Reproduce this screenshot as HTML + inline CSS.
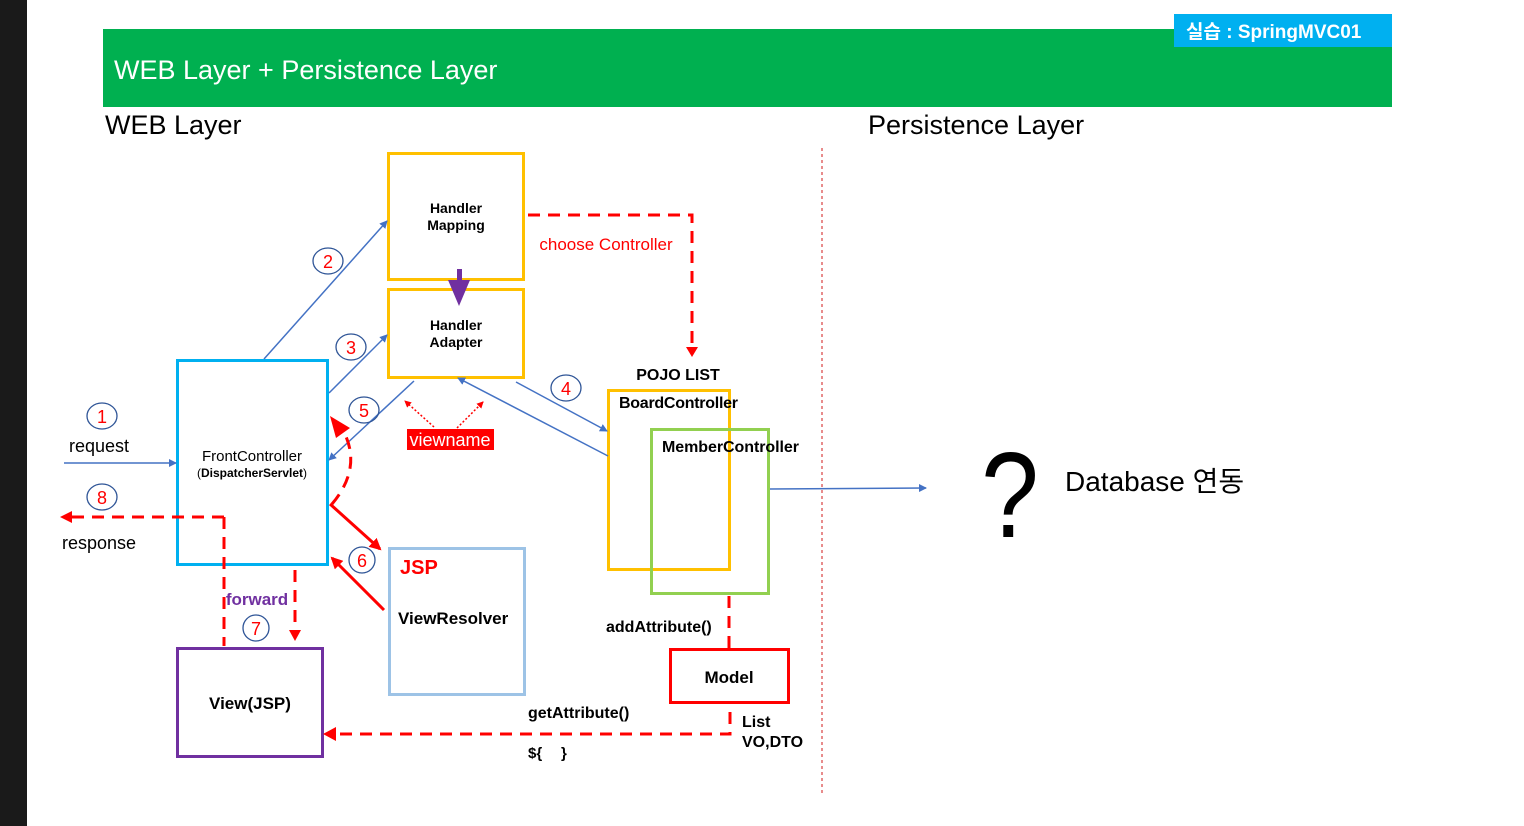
<!DOCTYPE html>
<html><head><meta charset="utf-8"><style>
html,body{margin:0;padding:0;background:#fff;}
svg{display:block;}
text{font-family:"Liberation Sans","Noto Sans CJK KR",sans-serif;}
</style></head><body>
<svg width="1524" height="826" viewBox="0 0 1524 826" xmlns="http://www.w3.org/2000/svg">
<defs>
<marker id="ab" markerWidth="8" markerHeight="8" refX="7" refY="4" orient="auto" markerUnits="userSpaceOnUse"><path d="M0,0 L8,4 L0,8 z" fill="#4472c4"/></marker>
<marker id="ar" markerWidth="12" markerHeight="12" refX="10" refY="6" orient="auto" markerUnits="userSpaceOnUse"><path d="M0,0 L12,6 L0,12 z" fill="#ff0000"/></marker>
<marker id="ars" markerWidth="10" markerHeight="10" refX="9" refY="5" orient="auto" markerUnits="userSpaceOnUse"><path d="M0,0 L10,5 L0,10 z" fill="#ff0000"/></marker>
<marker id="art" markerWidth="7" markerHeight="7" refX="6" refY="3.5" orient="auto" markerUnits="userSpaceOnUse"><path d="M0,0 L7,3.5 L0,7 z" fill="#ff0000"/></marker>
</defs>
<rect x="0" y="0" width="27" height="826" fill="#1a1a1a"/>
<rect x="103" y="29" width="1289" height="78" fill="#00b050"/>
<text x="114" y="79" font-size="27" fill="#fff">WEB Layer + Persistence Layer</text>
<rect x="1174" y="14" width="218" height="33" fill="#00b0f0"/>
<text x="1186" y="38" font-size="19" font-weight="bold" fill="#fff">실습 : SpringMVC01</text>
<text x="105" y="134" font-size="27" fill="#000">WEB Layer</text>
<text x="868" y="134" font-size="27" fill="#000">Persistence Layer</text>
<line x1="822" y1="148" x2="822" y2="796" stroke="#e06666" stroke-width="1.5" stroke-dasharray="3,3"/>

<rect x="388.5" y="153.5" width="135" height="126" fill="none" stroke="#ffc000" stroke-width="3"/>
<text x="456" y="213" font-size="14" font-weight="bold" text-anchor="middle">Handler</text>
<text x="456" y="230" font-size="14" font-weight="bold" text-anchor="middle">Mapping</text>
<rect x="388.5" y="289.5" width="135" height="88" fill="none" stroke="#ffc000" stroke-width="3"/>
<text x="456" y="330" font-size="14" font-weight="bold" text-anchor="middle">Handler</text>
<text x="456" y="347" font-size="14" font-weight="bold" text-anchor="middle">Adapter</text>
<rect x="457" y="269" width="5" height="14" fill="#7030a0"/><path d="M448,280 L470,280 L459,306 z" fill="#7030a0"/>

<rect x="177.5" y="360.5" width="150" height="204" fill="none" stroke="#00b0f0" stroke-width="3"/>
<text x="252" y="461" font-size="15" text-anchor="middle">FrontController</text>
<text x="252" y="477" font-size="12" text-anchor="middle">(<tspan font-weight="bold">DispatcherServlet</tspan>)</text>

<rect x="389.5" y="548.5" width="135" height="146" fill="none" stroke="#9dc3e6" stroke-width="3"/>
<text x="400" y="574" font-size="20" font-weight="bold" fill="#ff0000">JSP</text>
<text x="398" y="624" font-size="17" font-weight="bold">ViewResolver</text>

<rect x="177.5" y="648.5" width="145" height="108" fill="none" stroke="#7030a0" stroke-width="3"/>
<text x="250" y="709" font-size="17" font-weight="bold" text-anchor="middle">View(JSP)</text>

<rect x="608.5" y="390.5" width="121" height="179" fill="none" stroke="#ffc000" stroke-width="3"/>
<rect x="651.5" y="429.5" width="117" height="164" fill="none" stroke="#92d050" stroke-width="3"/>
<text x="678" y="380" font-size="16" font-weight="bold" text-anchor="middle">POJO LIST</text>
<text x="619" y="408" font-size="16" font-weight="bold" textLength="119">BoardController</text>
<text x="662" y="452" font-size="16" font-weight="bold" textLength="137">MemberController</text>

<rect x="670.5" y="649.5" width="118" height="53" fill="none" stroke="#ff0000" stroke-width="3"/>
<text x="729" y="683" font-size="17" font-weight="bold" text-anchor="middle">Model</text>

<line x1="64" y1="463" x2="176" y2="463" stroke="#4472c4" stroke-width="1.5" marker-end="url(#ab)"/>
<line x1="264" y1="359" x2="387" y2="221" stroke="#4472c4" stroke-width="1.5" marker-end="url(#ab)"/>
<line x1="329" y1="393" x2="387" y2="335" stroke="#4472c4" stroke-width="1.5" marker-end="url(#ab)"/>
<line x1="414" y1="381" x2="329" y2="460" stroke="#4472c4" stroke-width="1.5" marker-end="url(#ab)"/>
<line x1="516" y1="382" x2="607" y2="431" stroke="#4472c4" stroke-width="1.5" marker-end="url(#ab)"/>
<line x1="608" y1="456" x2="458" y2="378" stroke="#4472c4" stroke-width="1.5" marker-end="url(#ab)"/>
<line x1="770" y1="489" x2="926" y2="488" stroke="#4472c4" stroke-width="1.5" marker-end="url(#ab)"/>

<g fill="none" stroke="#2f5597" stroke-width="1.3">
<ellipse cx="102" cy="416" rx="15" ry="13"/><ellipse cx="102" cy="497" rx="15" ry="13"/>
<ellipse cx="328" cy="261" rx="15" ry="13"/><ellipse cx="351" cy="347" rx="15" ry="13"/>
<ellipse cx="364" cy="410" rx="15" ry="13"/><ellipse cx="566" cy="388" rx="15" ry="13"/>
<ellipse cx="362" cy="560" rx="13" ry="13"/><ellipse cx="256" cy="628" rx="13" ry="13"/>
</g>
<g fill="#ff0000" font-size="18" text-anchor="middle">
<text x="102" y="423">1</text><text x="102" y="504">8</text><text x="328" y="268">2</text><text x="351" y="354">3</text>
<text x="364" y="417">5</text><text x="566" y="395">4</text><text x="362" y="567">6</text><text x="256" y="635">7</text>
</g>
<text x="99" y="452" font-size="18" text-anchor="middle">request</text>
<text x="99" y="549" font-size="18" text-anchor="middle">response</text>

<g fill="none" stroke="#ff0000" stroke-width="3" stroke-dasharray="12,8">
<path d="M528,215 L692,215 L692,350"/>
<path d="M224,517 L224,646" />
<path d="M224,517 L70,517"/>
<path d="M295,570 L295,632"/>
<path d="M729,596 L729,648"/>
<path d="M730,712 L730,734 L335,734"/>
<path d="M332,504 Q365,465 340,425"/>
</g>
<path d="M686,347 L698,347 L692,357 z" fill="#ff0000"/>
<path d="M60,517 L72,511 L72,523 z" fill="#ff0000"/>
<path d="M289,630 L301,630 L295,641 z" fill="#ff0000"/>
<path d="M323,734 L336,727 L336,741 z" fill="#ff0000"/>
<path d="M330,416 L350,428 L336,438 z" fill="#ff0000"/>
<text x="606" y="250" font-size="17" fill="#ff0000" text-anchor="middle">choose Controller</text>
<line x1="330" y1="504" x2="380" y2="549" stroke="#ff0000" stroke-width="3" marker-end="url(#ar)"/>
<line x1="384" y1="610" x2="332" y2="558" stroke="#ff0000" stroke-width="3" marker-end="url(#ar)"/>
<g stroke="#ff0000" stroke-width="1.5" stroke-dasharray="2,2" fill="none">
<line x1="434" y1="427" x2="405" y2="401" marker-end="url(#art)"/>
<line x1="457" y1="428" x2="483" y2="402" marker-end="url(#art)"/>
</g>
<rect x="407" y="429" width="87" height="21" fill="#ff0000"/>
<text x="450" y="446" font-size="18" fill="#fff" text-anchor="middle">viewname</text>
<text x="257" y="605" font-size="17" font-weight="bold" fill="#7030a0" text-anchor="middle">forward</text>
<text x="606" y="632" font-size="16" font-weight="bold">addAttribute()</text>
<text x="528" y="718" font-size="16" font-weight="bold">getAttribute()</text>
<text x="528" y="758" font-size="15" font-weight="bold">${</text>
<text x="561" y="758" font-size="15" font-weight="bold">}</text>
<text x="742" y="727" font-size="16" font-weight="bold">List</text>
<text x="742" y="747" font-size="16" font-weight="bold">VO,DTO</text>

<text x="1010" y="537" font-size="122" text-anchor="middle" transform="translate(1010,0) scale(0.85,1) translate(-1010,0)">?</text>
<text x="1065" y="491" font-size="28">Database 연동</text>
</svg>
</body></html>
